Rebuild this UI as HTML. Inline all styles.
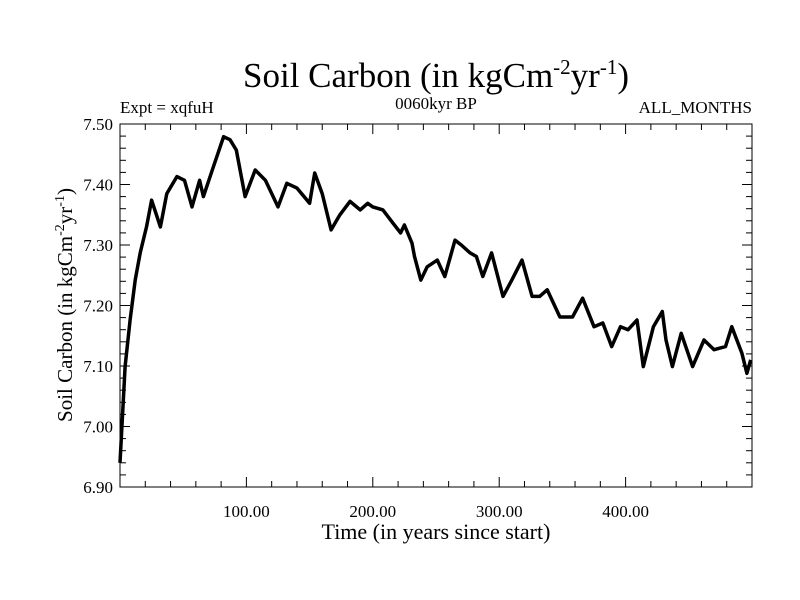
<!DOCTYPE html>
<html><head><meta charset="utf-8"><style>
body{margin:0;background:#fff}
svg{display:block;font-family:"Liberation Serif",serif}
</style></head><body>
<svg id="chart" width="800" height="600" viewBox="0 0 800 600">
<rect width="800" height="600" fill="#fff"/>
<text x="436" y="87" font-size="35" text-anchor="middle">Soil Carbon (in kgCm<tspan font-size="21" dy="-13">-2</tspan><tspan dy="13">yr</tspan><tspan font-size="21" dy="-13">-1</tspan><tspan dy="13">)</tspan></text>
<text x="120" y="113" font-size="17">Expt = xqfuH</text>
<text x="436" y="109" font-size="17" text-anchor="middle">0060kyr BP</text>
<text x="752" y="113" font-size="17" text-anchor="end">ALL_MONTHS</text>
<text transform="translate(72,305) rotate(-90)" font-size="21" text-anchor="middle">Soil Carbon (in kgCm<tspan font-size="14" dy="-8">-2</tspan><tspan dy="8">yr</tspan><tspan font-size="14" dy="-8">-1</tspan><tspan dy="8">)</tspan></text>
<text x="436" y="539" font-size="22" text-anchor="middle">Time (in years since start)</text>
<g id="axes"></g>
<path id="series" fill="none" stroke="#000" stroke-width="3.5" stroke-linejoin="round"/>
<rect x="120" y="124" width="632" height="363" fill="none" stroke="#000" stroke-width="1"/>
</svg>
<script>
const years=[0,4,8,12,16,21,25,32,37,45,51,57,63,66,73,82,87,92,99,107,115,125,132,140,150,154,160,167,174,182,190,196,200,208,216,222,225,231,233,238,243,251,257,265,270,277,282,287,294,303,310,318,326,332,338,348,358,366,375,382,389,396,402,409,414,422,429,432,437,444,453,462,470,479,484,492,496,499];
const values=[6.94,7.099,7.176,7.242,7.287,7.330,7.374,7.330,7.385,7.413,7.407,7.363,7.407,7.380,7.424,7.479,7.474,7.457,7.380,7.424,7.407,7.363,7.402,7.394,7.369,7.419,7.385,7.325,7.350,7.372,7.358,7.369,7.363,7.358,7.336,7.320,7.333,7.303,7.281,7.242,7.264,7.275,7.248,7.308,7.300,7.287,7.281,7.248,7.287,7.215,7.242,7.275,7.215,7.215,7.226,7.181,7.181,7.212,7.165,7.171,7.132,7.165,7.160,7.176,7.099,7.165,7.190,7.143,7.099,7.154,7.099,7.143,7.127,7.132,7.165,7.121,7.088,7.110];
const xTicks=[100,200,300,400];
const xTickLabels=["100.00","200.00","300.00","400.00"];
const yTicks=[6.9,7.0,7.1,7.2,7.3,7.4,7.5];
const yTickLabels=["6.90","7.00","7.10","7.20","7.30","7.40","7.50"];
const X0=120,X1=752,Y0=487,Y1=124;
const xs=v=>X0+(v-0)/(500-0)*(X1-X0);
const ys=v=>Y0-(v-6.9)/(7.5-6.9)*(Y0-Y1);
const ns="http://www.w3.org/2000/svg";
const g=document.getElementById('axes');
function ln(x1,y1,x2,y2,name){const l=document.createElementNS(ns,'line');l.setAttribute('x1',x1);l.setAttribute('y1',y1);l.setAttribute('x2',x2);l.setAttribute('y2',y2);l.setAttribute('stroke','#000');l.setAttribute('stroke-width','1');


g.appendChild(l);}
function tx(x,y,s,anchor,name){const t=document.createElementNS(ns,'text');t.setAttribute('x',x);t.setAttribute('y',y);t.setAttribute('font-size','17');t.setAttribute('text-anchor',anchor);t.textContent=s;


g.appendChild(t);}
for(let v=20;v<500;v+=20){const x=xs(v);const major=v%100===0;ln(x,Y0,x,Y0-(major?10:6),'x-tick');ln(x,Y1,x,Y1+(major?10:6),'x-tick-top');}
xTicks.forEach((v,i)=>tx(xs(v),517,xTickLabels[i],'middle','x-tick-label'));
for(let k=1;k<30;k++){const v=6.9+k*0.02;const y=ys(v);const major=k%5===0;ln(X0,y,X0+(major?10:6),y,'y-tick');ln(X1,y,X1-(major?10:6),y,'y-tick-right');}
yTicks.forEach((v,i)=>tx(113,ys(v)+6,yTickLabels[i],'end','y-tick-label'));
let d='';years.forEach((y,i)=>{d+=(i?'L':'M')+xs(y).toFixed(1)+','+ys(values[i]).toFixed(1);});
document.getElementById('series').setAttribute('d',d);
</script>
</body></html>
